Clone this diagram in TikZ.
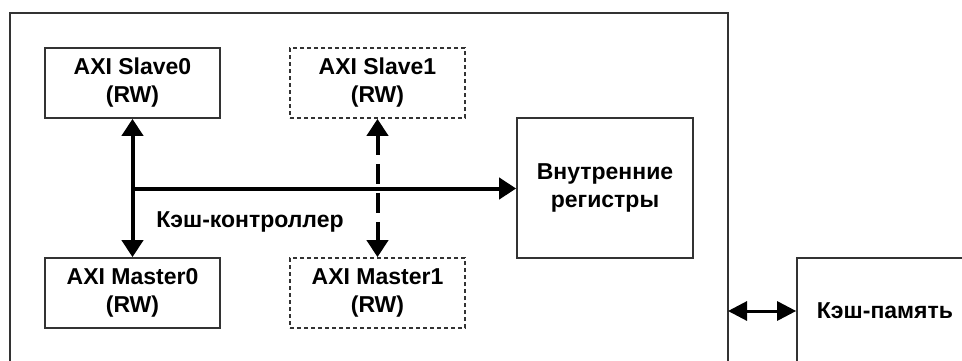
\documentclass[tikz,border=0pt]{standalone}
\usepackage{fontspec}
\setmainfont{Liberation Sans}
\usetikzlibrary{arrows.meta}
\tikzset{bigtip/.tip={Triangle[length=17pt,width=21pt]},
         memtip/.tip={Triangle[length=19pt,width=19pt]}}
\begin{document}
\begin{tikzpicture}[x=1pt,y=-1pt,
  every node/.style={font=\fontsize{23}{28}\selectfont\bfseries, align=center, inner sep=0pt},
  blk/.style={draw=black!80, line width=1.7pt, minimum width=175pt, minimum height=70pt},
  dblk/.style={blk, dash pattern=on 4pt off 3pt},
  bus/.style={line width=4pt},
  dbus/.style={bus, dash pattern=on 20pt off 9pt}
]
\useasboundingbox (0,0) rectangle (962,360);
\clip (0,0) rectangle (962,360);
\fill[white] (0,0) rectangle (962,360);
% outer frame
\draw[draw=black!80, line width=2pt] (10,13) rectangle (728,380);
\node[blk]  (s0) at (132.5,83) {AXI Slave0\\(RW)};
\node[dblk] (s1) at (377.5,83) {AXI Slave1\\(RW)};
\node[blk]  (m0) at (132.5,293) {AXI Master0\\(RW)};
\node[dblk] (m1) at (377.5,293) {AXI Master1\\(RW)};
\node[blk, minimum width=176pt, minimum height=140pt] (reg) at (605,188) {Внутренние\\регистры};
\node[blk, minimum width=176pt, minimum height=106pt] (mem) at (885,311) {Кэш-память};
\node (lbl) at (250,222) {Кэш-контроллер};
% buses
\coordinate (j) at (133,188.5);
\draw[bus, bigtip-bigtip] (s0.south) -- (m0.north);
\draw[bus, -bigtip] (j) -- (reg.west |- j);
\draw[dbus, bigtip-bigtip] (s1.south) -- (m1.north);
\coordinate (fr) at (728,311);
\draw[line width=3pt, memtip-memtip] (fr) -- (mem.west);
\end{tikzpicture}
\end{document}
